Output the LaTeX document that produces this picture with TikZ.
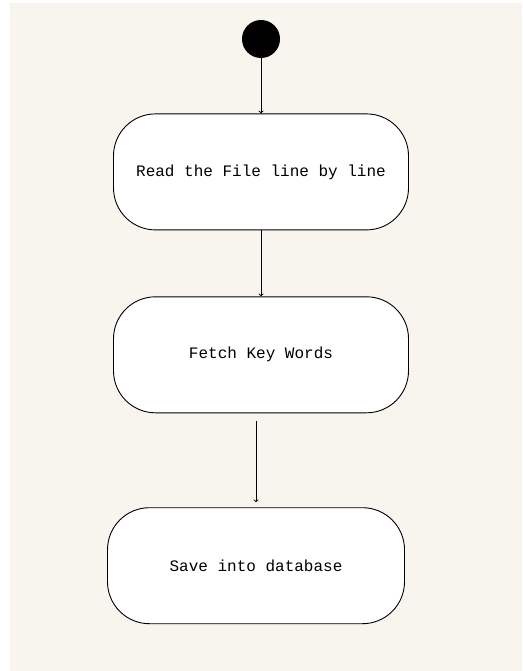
\documentclass[tikz,border=0pt]{standalone}
\usepackage{fontspec}
\setmonofont{Liberation Mono}
\usetikzlibrary{arrows,positioning}
\definecolor{paper}{RGB}{248,245,238}

\begin{document}
\begin{tikzpicture}[>=to,x=1pt,y=-1pt,node distance=55pt,
                    line width=0.9pt]
    \tikzset{activity/.style={draw,fill=white,rounded corners=42pt,
             minimum width=295pt,minimum height=116pt,
             font=\ttfamily\fontsize{16}{18}\selectfont}}
    \fill[white] (0,0) rectangle (522,671);
    \fill[paper] (10,3) rectangle (522,671);
    \node[circle,fill=black,minimum size=38pt,inner sep=0pt] (start) at (261,39) {};
    \node[activity] (read) [below=of start] {Read the File line by line};
    \node[activity] (fetch) [below=66pt of read] {Fetch Key Words};
    \node[activity,minimum width=297pt] (save) [below=94pt of fetch,xshift=-5pt] {Save into database};
    \path[->]
    (start) edge node{} (read)
    (read) edge node{} (fetch);
    \draw[->,shorten <=8pt,shorten >=5pt] (save.north |- fetch.south) -- (save.north);
\end{tikzpicture}
\end{document}
